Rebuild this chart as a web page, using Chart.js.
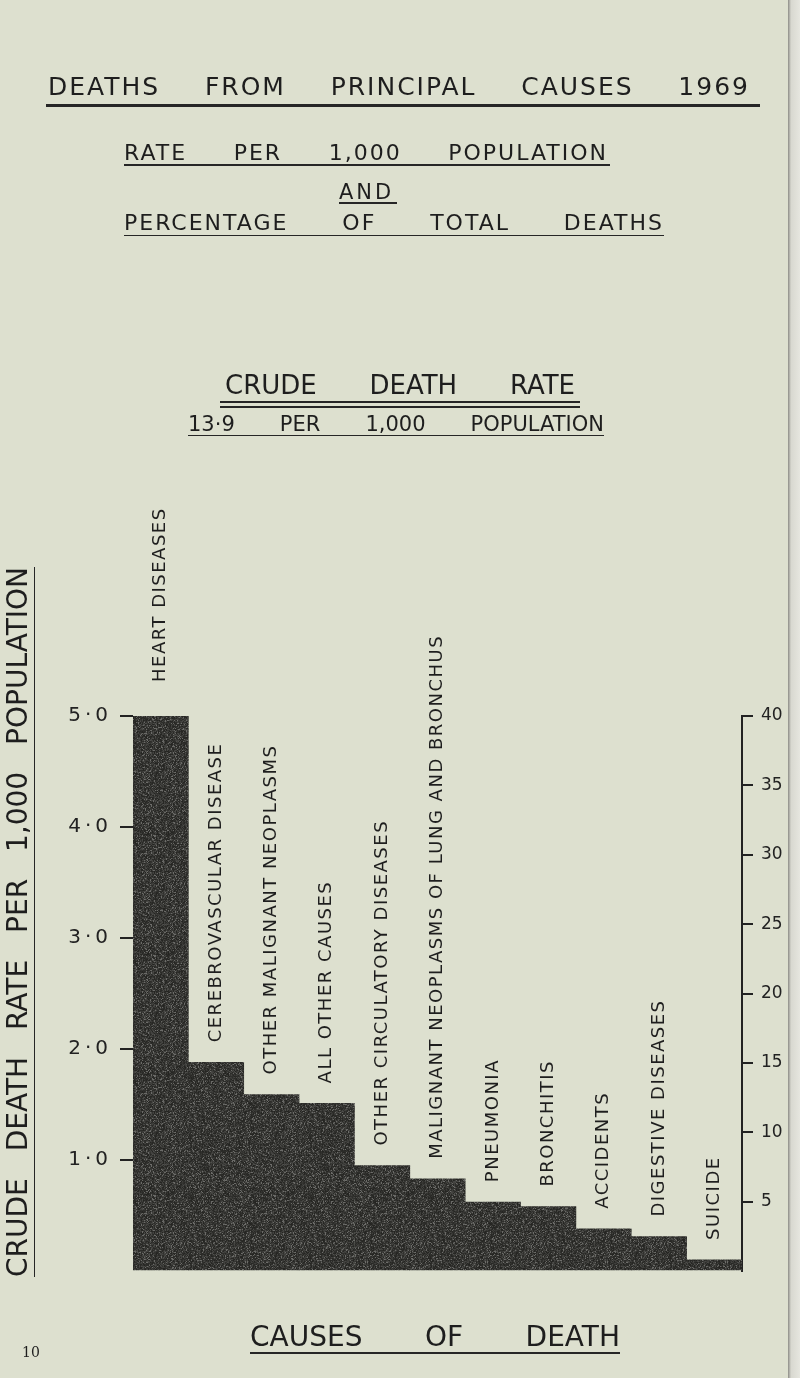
<!DOCTYPE html>
<html>
<head>
<meta charset="utf-8">
<script src="https://cdn.jsdelivr.net/npm/chart.js@4.4.0/dist/chart.umd.min.js"></script>
<style>
  html, body { margin: 0; padding: 0; }
  body {
    width: 800px; height: 1378px; position: relative; overflow: hidden;
    background: #dde0cf; color: #1e1e1e;
    font-family: "DejaVu Sans", sans-serif;
  }
  #myChart { position: absolute; left: 0; top: 0; }
  .t { position: absolute; line-height: 1; text-align: justify; text-align-last: justify; }
  .u { position: absolute; background: #262626; height: 2px; }
  .edge { position: absolute; top: 0; left: 788px; width: 12px; height: 1378px;
    background: linear-gradient(90deg, #8c8c86 0, #d8d8d0 3px, #e6e6df 100%); }
</style>
</head>
<body>
<canvas id="myChart" width="800" height="1378"></canvas>

<div class="t" style="left:48px;top:74px;width:702px;font-size:25px;letter-spacing:2px;">DEATHS FROM PRINCIPAL CAUSES 1969</div>
<div class="u" style="left:46px;top:104px;width:714px;height:3px;"></div>

<div class="t" style="left:124px;top:142px;width:484px;font-size:22px;letter-spacing:2px;">RATE PER 1,000 POPULATION</div>
<div class="u" style="left:124px;top:164px;width:486px;"></div>

<div class="t" style="left:339px;top:182px;font-size:21px;letter-spacing:3px;text-align:left;text-align-last:left;">AND</div>
<div class="u" style="left:339px;top:202px;width:58px;"></div>

<div class="t" style="left:124px;top:212px;width:540px;font-size:22px;letter-spacing:2px;">PERCENTAGE OF TOTAL DEATHS</div>
<div class="u" style="left:124px;top:235px;width:540px;height:1px;"></div>

<div class="t" style="left:225px;top:372px;width:350px;font-size:26px;">CRUDE DEATH RATE</div>
<div class="u" style="left:220px;top:401px;width:360px;"></div>
<div class="u" style="left:220px;top:406px;width:360px;"></div>

<div class="t" style="left:188px;top:414px;width:416px;font-size:21px;">13·9 PER 1,000 POPULATION</div>
<div class="u" style="left:188px;top:435px;width:416px;height:1px;"></div>

<div class="t" style="left:-337px;top:908px;width:710px;font-size:28px;transform:rotate(-90deg);">CRUDE DEATH RATE PER 1,000 POPULATION</div>
<div class="u" style="left:34px;top:567px;width:1px;height:710px;"></div>

<div class="t" style="left:250px;top:1323px;width:370px;font-size:28px;">CAUSES OF DEATH</div>
<div class="u" style="left:250px;top:1352px;width:370px;"></div>

<div class="t" style="left:22px;top:1345px;font-size:14px;font-family:'DejaVu Serif',serif;">10</div>
<div class="edge"></div>

<script>
// crude death rate per 1,000 population, 1969
const causes = [
  "HEART DISEASES",
  "CEREBROVASCULAR DISEASE",
  "OTHER MALIGNANT NEOPLASMS",
  "ALL OTHER CAUSES",
  "OTHER CIRCULATORY DISEASES",
  "MALIGNANT NEOPLASMS OF LUNG AND BRONCHUS",
  "PNEUMONIA",
  "BRONCHITIS",
  "ACCIDENTS",
  "DIGESTIVE DISEASES",
  "SUICIDE",
];
const rates = [5.0, 1.88, 1.59, 1.51, 0.95, 0.83, 0.62, 0.58, 0.38, 0.31, 0.1];
const rateTicks = [1, 2, 3, 4, 5];
const percentTicks = [5, 10, 15, 20, 25, 30, 35, 40];

// grainy dark fill like the printed bars
const makeTexture = () => {
  const c = document.createElement("canvas");
  c.width = c.height = 120;
  const g = c.getContext("2d");
  const img = g.createImageData(120, 120);
  let s = 7;
  for (let i = 0; i < 120 * 120; i++) {
    s = (s * 1103515245 + 12345) & 0x7fffffff;
    const n = (s >> 10) % 100;
    const v = n < 55 ? 36 + (n % 18) : n < 90 ? 56 + (n % 25) : 92 + (n % 40);
    img.data[i * 4] = v;
    img.data[i * 4 + 1] = v;
    img.data[i * 4 + 2] = v - 3;
    img.data[i * 4 + 3] = 255;
  }
  g.putImageData(img, 0, 0);
  return g.createPattern(c, "repeat");
};

const barLabels = {
  id: "barLabels",
  afterDatasetsDraw(chart) {
    const ctx = chart.ctx;
    const meta = chart.getDatasetMeta(0);
    ctx.save();
    ctx.fillStyle = "#1e1e1e";
    ctx.font = "18px 'DejaVu Sans'";
    ctx.letterSpacing = "1.5px";
    ctx.textAlign = "left";
    ctx.textBaseline = "middle";
    meta.data.forEach((bar, i) => {
      ctx.save();
      ctx.translate(bar.x, bar.y - (i === 0 ? 34 : 20));
      ctx.rotate(-Math.PI / 2);
      ctx.fillText(causes[i], 0, 0);
      ctx.restore();
    });
    ctx.restore();
  },
};

const tickColor = (c) => (c.tick && c.tick.value === 0 ? "rgba(0,0,0,0)" : "#222");

const chartElement = document.getElementById("myChart");
const myChart = new Chart(chartElement, {
  type: "bar",
  data: {
    labels: causes,
    datasets: [
      {
        data: rates,
        backgroundColor: makeTexture(),
        borderWidth: 0,
        barPercentage: 1,
        categoryPercentage: 1,
        yAxisID: "y",
      },
    ],
  },
  options: {
    responsive: false,
    animation: false,
    events: [],
    layout: { padding: { top: 716, bottom: 107, left: 0, right: 0 } },
    plugins: { legend: { display: false }, tooltip: { enabled: false } },
    scales: {
      x: { display: false },
      y: {
        position: "left",
        min: 0,
        max: 5,
        afterFit: (scale) => { scale.width = 133; },
        afterBuildTicks: (scale) => {
          scale.ticks = [0, ...rateTicks].map((v) => ({ value: v }));
        },
        border: { display: false },
        grid: { drawOnChartArea: false, tickLength: 13, lineWidth: 2, color: tickColor },
        ticks: {
          padding: 12,
          color: "#222",
          font: { family: "DejaVu Sans", size: 20 },
          callback: (v) => (v === 0 ? "" : v.toFixed(1).replace(".", "\u2009·\u2009")),
        },
      },
      y2: {
        position: "right",
        min: 0,
        max: 40,
        afterFit: (scale) => { scale.width = 58; },
        afterBuildTicks: (scale) => {
          scale.ticks = [0, ...percentTicks].map((v) => ({ value: v }));
        },
        border: { display: true, color: "#222", width: 2 },
        grid: { drawOnChartArea: false, tickLength: 11, lineWidth: 2, color: tickColor },
        ticks: {
          padding: 8,
          color: "#222",
          font: { family: "DejaVu Sans", size: 17 },
          callback: (v) => (v === 0 ? "" : String(v)),
        },
      },
    },
  },
  plugins: [barLabels],
});
</script>
</body>
</html>
